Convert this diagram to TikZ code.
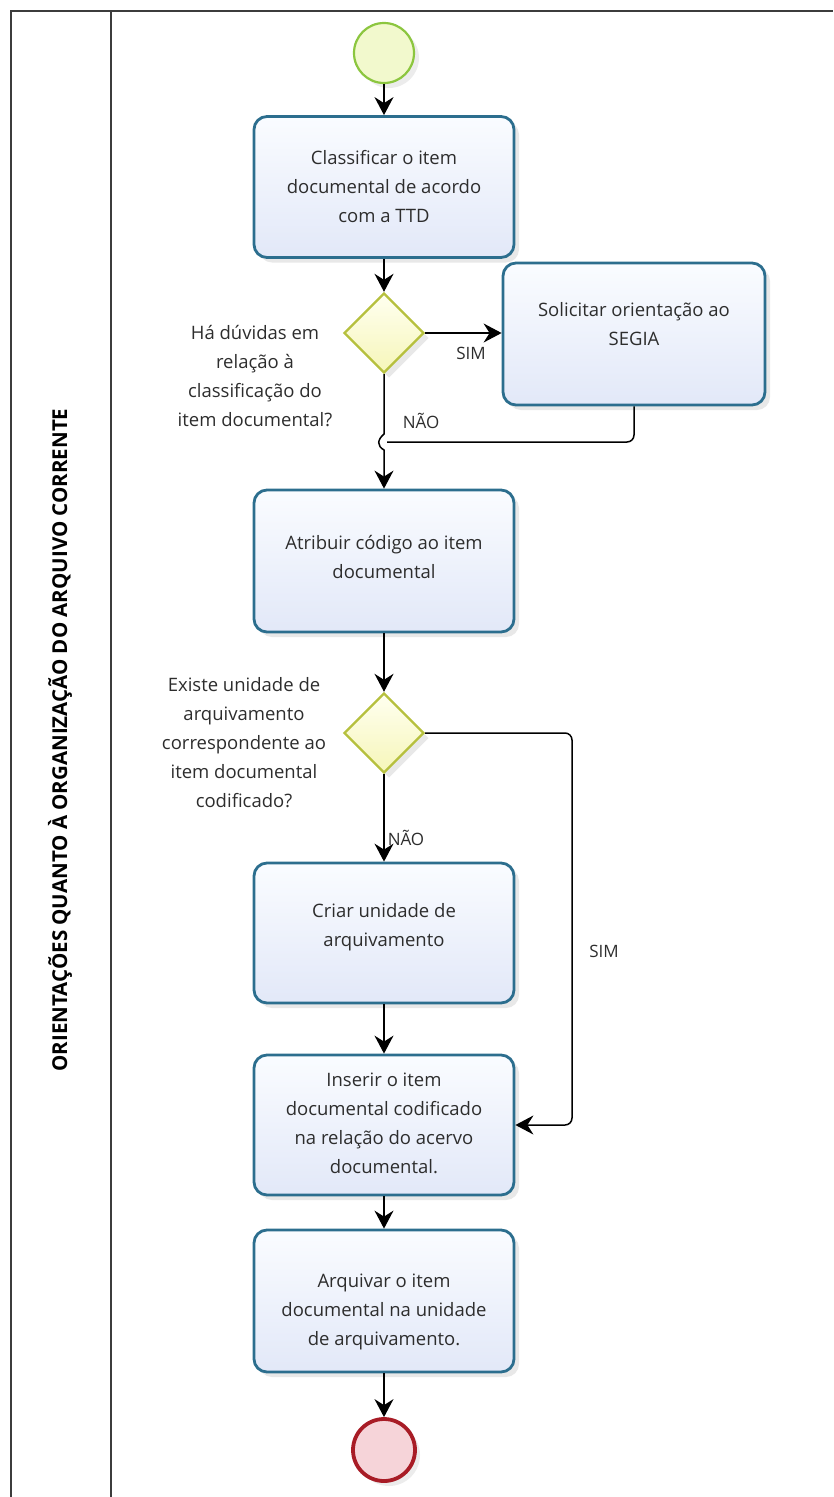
\documentclass[tikz,border=0pt]{standalone}
\usepackage{fontspec}
\setmainfont{Open Sans}
\usetikzlibrary{arrows.meta,shapes.geometric,shadows}
\definecolor{boxdraw}{RGB}{44,110,142}
\definecolor{boxtop}{RGB}{250,252,255}
\definecolor{boxbot}{RGB}{226,232,248}
\definecolor{diadraw}{RGB}{182,192,62}
\definecolor{diatop}{RGB}{255,255,240}
\definecolor{diabot}{RGB}{246,246,185}
\definecolor{stdraw}{RGB}{140,198,63}
\definecolor{stfill}{RGB}{242,249,205}
\definecolor{endraw}{RGB}{168,28,38}
\definecolor{enfill}{RGB}{246,212,217}
\definecolor{txt}{RGB}{45,45,45}
\definecolor{frame}{RGB}{60,60,60}
\tikzset{
  task/.style={rectangle, rounded corners=13pt, draw=boxdraw, line width=2.8pt,
    top color=boxtop, bottom color=boxbot, minimum width=260pt, minimum height=141pt,
    inner sep=0pt,
    drop shadow={opacity=0.18, shadow xshift=5pt, shadow yshift=-5pt}},
  tasktext/.style={text=txt, font=\fontsize{18.5}{29}\selectfont, align=center, inner sep=0pt},
  gate/.style={diamond, aspect=1, draw=diadraw, line width=2.4pt, top color=diatop,
    bottom color=diabot, minimum width=80pt, minimum height=80pt, inner sep=0pt,
    drop shadow={opacity=0.18, shadow xshift=5pt, shadow yshift=-5pt}},
  startev/.style={circle, draw=stdraw, line width=2.2pt, fill=stfill, minimum size=60pt, inner sep=0pt,
    drop shadow={opacity=0.15, shadow xshift=5pt, shadow yshift=-5pt}},
  endev/.style={circle, draw=endraw, line width=3.8pt, fill=enfill, minimum size=62pt, inner sep=0pt,
    drop shadow={opacity=0.15, shadow xshift=5pt, shadow yshift=-5pt}},
  conn/.style={draw=black, line width=1.5pt, -{Stealth[length=18pt,width=19pt,inset=6pt]}},
  plain/.style={draw=black, line width=1.5pt},
  lbl/.style={text=txt, font=\fontsize{18.5}{29}\selectfont, align=center, inner sep=0pt},
  flow/.style={text=txt, font=\fontsize{17}{20}\selectfont, inner sep=0pt}
}
\begin{document}
\begin{tikzpicture}[x=1pt, y=-1pt]
\useasboundingbox (0,0) rectangle (833,1497);
% frame
\draw[frame, line width=2pt] (11,1497) -- (11,11) -- (833,11);
\draw[frame, line width=2pt] (111,11) -- (111,1497);
\node[rotate=90, text=black, font=\fontsize{20.5}{24}\bfseries\selectfont, inner sep=0pt] (lane) at (60,740)
  {ORIENTAÇÕES QUANTO À ORGANIZAÇÃO DO ARQUIVO CORRENTE};

% nodes
\node[startev] (start) at (384,53) {};
\node[task, label={[tasktext]center:Classificar o item\\documental de acordo\\com a TTD}] (b1) at (384,187) {};
\node[gate] (d1) at (384,333) {};
\node[task, minimum width=262pt, minimum height=142pt,
  label={[tasktext, yshift=10pt]center:Solicitar orientação ao\\SEGIA}] (b2) at (634,334) {};
\node[task, minimum height=142pt,
  label={[tasktext, yshift=4pt]center:Atribuir código ao item\\documental}] (b3) at (384,561) {};
\node[gate] (d2) at (384,733) {};
\node[task, minimum height=140pt,
  label={[tasktext, yshift=6pt]center:Criar unidade de\\arquivamento}] (b4) at (384,933) {};
\node[task, minimum height=140pt,
  label={[tasktext, yshift=2pt]center:Inserir o item\\documental codificado\\na relação do acervo\\documental.}] (b5) at (384,1125) {};
\node[task, minimum height=142pt,
  label={[tasktext, yshift=-11pt]center:Arquivar o item\\documental na unidade\\de arquivamento.}] (b6) at (384,1301) {};
\node[endev] (end) at (384,1450) {};

% side labels
\node[lbl] (q1) at (255,376) {Há dúvidas em\\relação à\\classificação do\\item documental?};
\node[lbl] (q2) at (244,743) {Existe unidade de\\arquivamento\\correspondente ao\\item documental\\codificado?};

% connectors
\draw[conn] (start) -- (b1);
\draw[conn] (b1) -- (d1);
\draw[conn] (d1) -- (b2.west |- d1) node[flow, pos=0.6, below=13pt] (sim1) {SIM};
\coordinate (h1) at (384,434);
\coordinate (h2) at (384,450);
\coordinate (jn) at (387,442);
\draw[conn] (d1.south) -- (h1) .. controls (377,440) and (377,446) .. (h2) -- (b3.north);
\draw[plain, rounded corners=7pt] (b2.south) -- (b2.south |- jn) -- (jn);
\node[flow] (nao1) at (421,421) {NÃO};
\draw[conn] (b3) -- (d2);
\coordinate (c2) at (572,733);
\draw[conn, rounded corners=7pt] (d2.east) -- (c2) |- (b5.east);
\node[flow] (sim2) at (604,951) {SIM};
\draw[conn] (d2) -- (b4) node[flow, pos=0.73, right=3pt] (nao2) {NÃO};
\draw[conn] (b4) -- (b5);
\draw[conn] (b5) -- (b6);
\draw[conn] (b6) -- (end);
\end{tikzpicture}
\end{document}
